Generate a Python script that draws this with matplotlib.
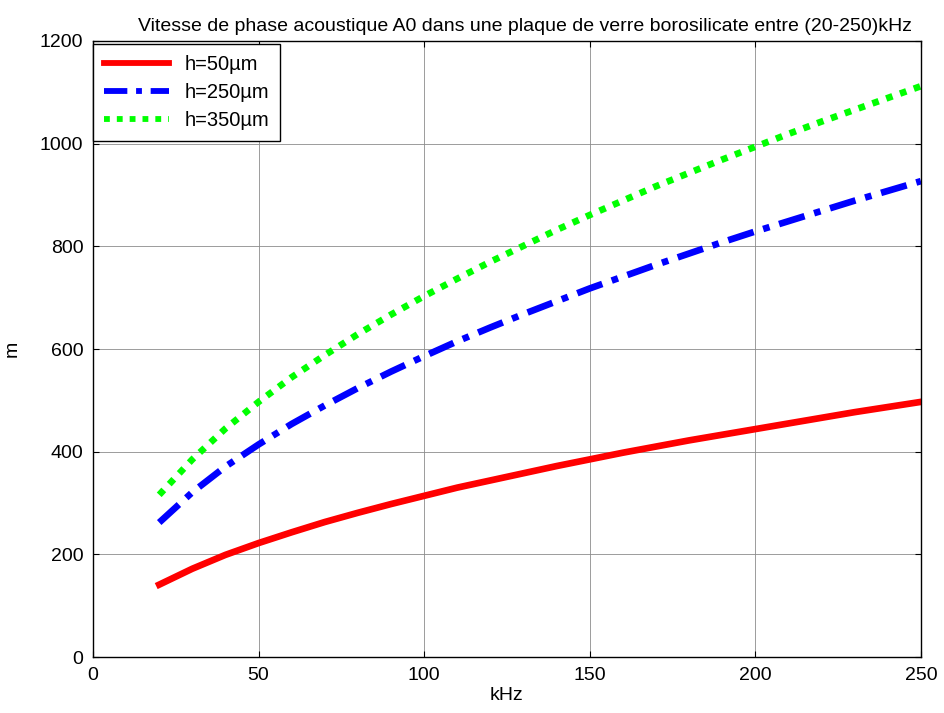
import matplotlib
matplotlib.use("Agg")
import matplotlib.pyplot as plt

# Données
freq_khz = [20, 30, 40, 50, 60, 70, 80, 90, 100, 110, 120, 130,
            140, 150, 160, 170, 180, 190, 200, 210, 220, 230, 240, 250]
v_h50 = [141, 172, 199, 222, 243, 263, 281, 298, 314, 330, 344, 358,
         372, 385, 398, 410, 422, 433, 444, 455, 466, 477, 487, 497]
v_h250 = [262, 321, 371, 414, 454, 490, 524, 556, 586, 615, 642, 668,
          693, 718, 741, 764, 786, 808, 829, 849, 869, 889, 908, 927]
v_h350 = [316, 385, 445, 497, 545, 588, 629, 667, 703, 737, 770, 801,
          832, 861, 889, 917, 943, 969, 994, 1019, 1043, 1066, 1089, 1112]

labels = ["h=50µm", "h=250µm", "h=350µm"]
xticks = [0, 50, 100, 150, 200, 250]
yticks = [0, 200, 400, 600, 800, 1000, 1200]

plt.rcParams["font.family"] = ["Liberation Sans", "DejaVu Sans"]
plt.rcParams["font.size"] = 14

fig = plt.figure(figsize=(9.44, 7.13), dpi=100)
ax = fig.add_axes([0.0985, 0.0785, 0.877, 0.864])

ax.plot(freq_khz, v_h50, color="#ff0000", lw=4.8, ls="-", label=labels[0])
ax.plot(freq_khz, v_h250, color="#0000ff", lw=4.8, ls=(0, (4, 1.5, 1, 1.5)), label=labels[1])
ax.plot(freq_khz, v_h350, color="#00ff00", lw=4.8, ls=(0, (1, 1.2)), label=labels[2])

ax.set_xlim(0, 250)
ax.set_ylim(0, 1200)
ax.set_xticks(xticks)
ax.set_yticks(yticks)
ax.grid(True, color="0.55", lw=0.6, ls="-")
ax.tick_params(direction="in", length=4, top=True, right=True, width=0.8,
               labelsize=14, pad=7)
for s in ax.spines.values():
    s.set_linewidth(1.0)

ax.set_xlabel("kHz", labelpad=2)
ax.set_ylabel("m", labelpad=14)
ax.set_title("Vitesse de phase acoustique A0 dans une plaque de verre borosilicate entre (20-250)kHz",
             fontsize=14, pad=7, x=0.522)

leg = ax.legend(loc="upper left", bbox_to_anchor=(0.0, 0.995), fancybox=False,
                framealpha=1, edgecolor="black", borderaxespad=0.0, handlelength=3.2,
                fontsize=14.5, labelspacing=0.45, borderpad=0.55)
leg.get_frame().set_linewidth(1.0)
for h in leg.get_lines():
    h.set_linewidth(4.2)

fig.savefig("out.png", dpi=100)
